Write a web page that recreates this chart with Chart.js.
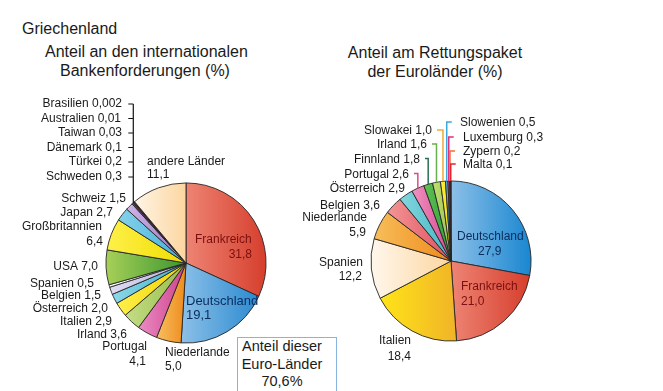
<!DOCTYPE html>
<html>
<head>
<meta charset="utf-8">
<script src="https://cdn.jsdelivr.net/npm/chart.js@4.4.1/dist/chart.umd.min.js"></script>
<style>
  html, body { margin: 0; padding: 0; background: #fff; }
  #wrap { position: relative; width: 663px; height: 391px; overflow: hidden;
          font-family: 'Liberation Sans', Arial, sans-serif; color: #1a1a1a; }
  #wrap canvas { position: absolute; left: 0; top: 0; }
  .ttl { position: absolute; white-space: nowrap; text-align: center; font-size: 16px; line-height: 18.5px; }
  #box { position: absolute; left: 237px; top: 337px; width: 98px; height: 70px;
         border: 1.5px solid #8ab4e0; background: #fff; }
  #boxtxt { position: absolute; left: 241px; top: 338px; width: 82px; text-align: center;
            font-size: 14.5px; line-height: 17.5px; white-space: nowrap; }
</style>
</head>
<body>
<div id="wrap">
  <div class="ttl" style="left:22px;top:20px;text-align:left">Griechenland</div>
  <div class="ttl" style="left:45px;top:43px;width:200px">Anteil an den internationalen<br>Bankenforderungen (%)</div>
  <div class="ttl" style="left:335px;top:44px;width:200px">Anteil am Rettungspaket<br>der Euroländer (%)</div>
  <canvas id="chart-bank" width="663" height="391"></canvas>
  <canvas id="chart-rett" width="663" height="391"></canvas>
  <div id="box"></div>
  <div id="boxtxt">Anteil dieser<br>Euro-Länder<br>70,6%</div>
</div>
<script>
// ---- data: Bankenforderungen (left pie), clockwise from 12 o'clock ----
const bankLaender = ['Frankreich', 'Deutschland', 'Niederlande', 'Portugal', 'Irland', 'Italien',
  'Österreich', 'Belgien', 'Spanien', 'USA', 'Großbritannien', 'Japan', 'Schweiz',
  'Schweden', 'Türkei', 'Dänemark', 'Taiwan', 'Australien', 'Brasilien', 'andere Länder'];
const bankAnteil = [31.8, 19.1, 5.0, 4.1, 3.6, 2.9, 2.0, 1.5, 0.5, 7.0, 6.4, 2.7, 1.5,
  0.3, 0.2, 0.1, 0.03, 0.01, 0.002, 11.1];

// ---- data: Rettungspaket (right pie) ----
const rettLaender = ['Deutschland', 'Frankreich', 'Italien', 'Spanien', 'Niederlande', 'Belgien',
  'Österreich', 'Portugal', 'Finnland', 'Irland', 'Slowakei', 'Slowenien', 'Luxemburg', 'Zypern', 'Malta'];
const rettAnteil = [27.9, 21.0, 18.4, 12.2, 5.9, 3.6, 2.9, 2.6, 1.8, 1.6, 1.0, 0.5, 0.3, 0.2, 0.1];

// slice colours as [light, dark] pairs for the horizontal shading
const bankFarben = [
  ['#ee8474', '#d63e2c'], ['#8cc0e8', '#2a8ad0'], ['#f8c060', '#ee8a1c'], ['#ea8cc2', '#cf428e'],
  ['#c4de86', '#98bc48'], ['#fff04a', '#f0d000'], ['#8cd8e8', '#40b0cc'], ['#e0dcf2', '#b8b0dc'],
  ['#ffffff', '#f2f2f2'], ['#a8d058', '#3a9630'], ['#fff04a', '#f0dc00'], ['#86d2ea', '#40b0d8'],
  ['#cdb6e4', '#9a70c0'], ['#7a3a8a', '#5a2a6a'], ['#b04040', '#902020'], ['#404080', '#202060'],
  ['#303030', '#101010'], ['#303030', '#101010'], ['#303030', '#101010'], ['#fff5e6', '#fcd6a0']
];
const rettFarben = [
  ['#8cc0e8', '#1886d0'], ['#ee8474', '#d63e2c'], ['#ffe418', '#f0b428'], ['#fff7ec', '#fcd6a0'],
  ['#f8be5a', '#ee8a1c'], ['#f29696', '#e05060'], ['#86d6de', '#40b8c4'], ['#f094c2', '#d84890'],
  ['#64c454', '#2a9a3a'], ['#c4e274', '#98c050'], ['#fff04a', '#f0d800'], ['#66bcea', '#3098d8'],
  ['#e4508e', '#c02060'], ['#f28444', '#e05a20'], ['#ea3434', '#c81818']
];

// label placement: [index, part, dx, dy, align, colour, size]  (offsets from pie centre)
const bankLabelPos = [
  [18, 'nv', -64, -159, 'right'], [17, 'nv', -65, -144.5, 'right'], [16, 'nv', -64, -130, 'right'],
  [15, 'nv', -64, -115.5, 'right'], [14, 'nv', -64, -101, 'right'], [13, 'nv', -64, -86, 'right'],
  [12, 'nv', -60, -64, 'right'], [11, 'nv', -73, -50, 'right'],
  [10, 'n', -84, -36, 'right'], [10, 'v', -83, -21, 'right'],
  [9, 'nv', -88, 4, 'right'], [8, 'nv', -92, 21, 'right'], [7, 'nv', -85, 33, 'right'],
  [6, 'nv', -78, 46, 'right'], [5, 'nv', -74, 59, 'right'], [4, 'nv', -59, 72, 'right'],
  [3, 'n', -39, 84, 'right'], [3, 'v', -40, 99, 'right'],
  [2, 'n', -21, 90, 'left'], [2, 'v', -21, 104, 'left'],
  [19, 'n', -39, -101, 'left'], [19, 'v', -39, -88, 'left'],
  [0, 'n', 9, -23, 'left', '#7a1010'], [0, 'v', 66, -8, 'right', '#7a1010'],
  [1, 'n', 0, 38, 'left', '#0b2c5c', 13], [1, 'v', 0, 52, 'left', '#0b2c5c', 13]
];
const rettLabelPos = [
  [11, 'nv', 9, -138, 'left'], [12, 'nv', 12, -123, 'left'], [13, 'nv', 12, -109, 'left'],
  [14, 'nv', 12, -96, 'left'],
  [10, 'nv', -19, -130, 'right'], [9, 'nv', -24, -116, 'right'], [8, 'nv', -31, -101.5, 'right'],
  [7, 'nv', -42, -86.5, 'right'], [6, 'nv', -46, -72, 'right'], [5, 'nv', -71, -55, 'right'],
  [4, 'n', -84, -43, 'right'], [4, 'v', -85, -28.5, 'right'],
  [3, 'n', -88, 2, 'right'], [3, 'v', -89, 16, 'right'],
  [2, 'n', -40, 80, 'right'], [2, 'v', -40, 96, 'right'],
  [0, 'n', 6, -24, 'left', '#0b2c5c'], [0, 'v', 27, -9, 'left', '#0b2c5c'],
  [1, 'n', 10, 26, 'left', '#7a1010'], [1, 'v', 10, 41, 'left', '#7a1010']
];
// leader lines for the small right slices: [index, side of label, colour]
const rettLeader = [
  [7, 'L', '#e04888'], [8, 'L', '#2a7050'], [9, 'L', '#6ab04a'], [10, 'L', '#f0a838'],
  [11, 'R', '#3aa6e0'], [12, 'R', '#e0307a'], [13, 'R', '#f07038'], [14, 'R', '#e02828']
];
// left pie: bracket from the tiny slices to the label column
const bankKlammer = [13, 14, 15, 16, 17, 18];

const fmt = v => v.toLocaleString('de-DE', { minimumFractionDigits: 1, maximumFractionDigits: 3 });

function shade(pairs) {
  return c => {
    const chart = c.chart, area = chart.chartArea;
    const p = pairs[c.dataIndex] || ['#ccc', '#ccc'];
    if (c.type !== 'data' || !area) return p[1];
    const vals = chart.data.datasets[0].data;
    const total = vals.reduce((s, v) => s + v, 0);
    let before = 0;
    for (let k = 0; k < c.dataIndex; k++) before += vals[k];
    const a0 = before / total * 2 * Math.PI - Math.PI / 2;
    const a1 = (before + vals[c.dataIndex]) / total * 2 * Math.PI - Math.PI / 2;
    const cx = (area.left + area.right) / 2, r = Math.min(area.width, area.height) / 2;
    let xmin = cx, xmax = cx;
    for (let t = 0; t <= 24; t++) {
      const x = cx + r * Math.cos(a0 + (a1 - a0) * t / 24);
      xmin = Math.min(xmin, x); xmax = Math.max(xmax, x);
    }
    if (xmax - xmin < 2) xmax = xmin + 2;
    const g = chart.ctx.createLinearGradient(xmin, 0, xmax, 0);
    g.addColorStop(0, p[0]);
    g.addColorStop(1, p[1]);
    return g;
  };
}

function midPoint(arc, extraEnd) {
  const end = extraEnd ? extraEnd.endAngle : arc.endAngle;
  const a = (arc.startAngle + end) / 2;
  return { x: arc.x + arc.outerRadius * Math.cos(a), y: arc.y + arc.outerRadius * Math.sin(a) };
}

const pieLabels = {
  id: 'pieLabels',
  afterDatasetsDraw(chart, args, opts) {
    const ctx = chart.ctx;
    const arcs = chart.getDatasetMeta(0).data;
    const cx = arcs[0].x, cy = arcs[0].y;
    const names = chart.data.labels, vals = chart.data.datasets[0].data;
    ctx.save();
    ctx.textBaseline = 'middle';

    // leader lines first
    if (opts.leaders) {
      ctx.lineWidth = 1.5;
      opts.leaders.forEach(([i, side, col]) => {
        const pos = opts.layout.find(l => l[0] === i);
        const p = midPoint(arcs[i]);
        const ly = cy + pos[3] - 1;
        ctx.font = '12px "Liberation Sans", Arial, sans-serif';
        ctx.strokeStyle = col;
        ctx.beginPath();
        if (side === 'L') {
          ctx.moveTo(cx + pos[2] + 5, ly);
        } else {
          ctx.moveTo(p.x + 5, ly);
        }
        ctx.lineTo(p.x, ly);
        ctx.lineTo(p.x, p.y);
        ctx.stroke();
      });
    }
    if (opts.bracket) {
      const first = arcs[opts.bracket[0]], last = arcs[opts.bracket[opts.bracket.length - 1]];
      const p = midPoint(first, last);
      const ys = opts.layout.filter(l => opts.bracket.includes(l[0])).map(l => cy + l[3]);
      ctx.strokeStyle = '#111';
      ctx.lineWidth = 1.2;
      ctx.beginPath();
      ctx.moveTo(p.x, Math.min(...ys));
      ctx.lineTo(p.x, p.y);
      ys.forEach(y => { ctx.moveTo(p.x - 5, y); ctx.lineTo(p.x, y); });
      ctx.stroke();
    }

    opts.layout.forEach(([i, part, dx, dy, align, col, size]) => {
      const txt = part === 'n' ? names[i] : part === 'v' ? fmt(vals[i]) : names[i] + ' ' + fmt(vals[i]);
      ctx.font = (size || 12) + 'px "Liberation Sans", Arial, sans-serif';
      ctx.fillStyle = col || '#1a1a1a';
      ctx.textAlign = align;
      ctx.fillText(txt, cx + dx, cy + dy);
    });
    ctx.restore();
  }
};

function makePie(id, labels, data, farben, padding, plOpts) {
  return new Chart(document.getElementById(id), {
    type: 'pie',
    data: {
      labels,
      datasets: [{
        data,
        backgroundColor: shade(farben),
        borderColor: '#262626',
        borderWidth: 0.9,
        hoverOffset: 0,
        offset: 0
      }]
    },
    options: {
      responsive: false,
      animation: false,
      events: [],
      layout: { padding },
      plugins: {
        legend: { display: false },
        tooltip: { enabled: false },
        pieLabels: plOpts
      }
    },
    plugins: [pieLabels]
  });
}

makePie('chart-bank', bankLaender, bankAnteil, bankFarben,
  { left: 105.5, top: 182.5, right: 396.5, bottom: 47.5 },
  { layout: bankLabelPos, bracket: bankKlammer });
makePie('chart-rett', rettLaender, rettAnteil, rettFarben,
  { left: 370.5, top: 180.5, right: 131.5, bottom: 49.5 },
  { layout: rettLabelPos, leaders: rettLeader });
</script>
</body>
</html>
